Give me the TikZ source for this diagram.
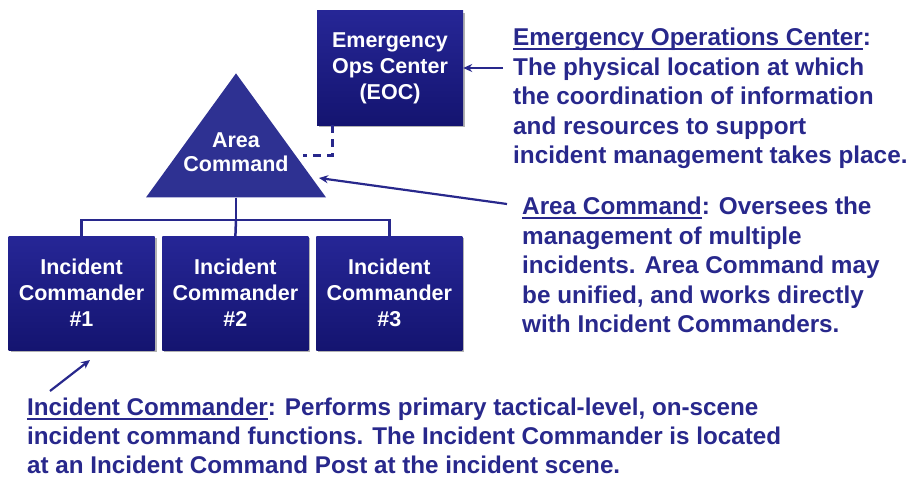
\documentclass[tikz,border=0pt]{standalone}
\usepackage{fontspec}
\setmainfont{Liberation Sans}
\usetikzlibrary{positioning,arrows.meta,shapes.geometric,shadows}

\definecolor{icsnavy}{RGB}{40,40,140}
\definecolor{boxtop}{RGB}{38,38,150}
\definecolor{boxbottom}{RGB}{20,20,112}
\definecolor{trifill}{RGB}{46,49,146}

\newcommand{\headline}[1]{\setbox0\hbox{#1}\rlap{\rule[-4.5pt]{\wd0}{2pt}}\box0}

\begin{document}
\begin{tikzpicture}[x=1pt, y=-1pt,
        unitbox/.style = {rectangle, top color=boxtop, bottom color=boxbottom, minimum width=146pt, minimum height=114pt, inner sep=0pt, text=white, align=center, font=\bfseries\fontsize{21.5}{26}\selectfont, drop shadow={shadow xshift=2pt, shadow yshift=-2pt, opacity=0.3, fill=black}},
        areatri/.style = {isosceles triangle, isosceles triangle stretches, shape border rotate=90, fill=trifill, minimum width=180pt, minimum height=124pt, inner sep=0pt},
        trilabel/.style = {text=white, align=center, inner sep=0pt, font=\bfseries\fontsize{21.5}{24.5}\selectfont},
        note/.style = {anchor=north west, inner sep=0pt, align=left, text=icsnavy, font=\bfseries\fontsize{24.3}{29.5}\selectfont},
        widenote/.style = {note, font=\bfseries\fontsize{24.2}{29}\selectfont},
        treeline/.style = {draw=icsnavy, line width=2.5pt},
        dashline/.style = {draw=icsnavy, line width=3pt, dash pattern=on 8pt off 6pt},
        line/.style = {draw=icsnavy, line width=2.2pt, -{Stealth[length=9pt,width=8pt]}}
    ]
    \useasboundingbox (0,0) rectangle (909,476);

    % command structure
    \node [unitbox] (eoc) at (390,68) {Emergency\\Ops Center\\(EOC)};
    \node [areatri] (area) at (236,151.5) {};
    \node [trilabel] (arealbl) at (236,152) {Area\\Command};
    \node [unitbox] (ic1) at (81.5,293) {Incident\\Commander\\\#1};
    \node [unitbox, right=7.5pt of ic1] (ic2) {Incident\\Commander\\\#2};
    \node [unitbox, right=7.5pt of ic2] (ic3) {Incident\\Commander\\\#3};

    \coordinate (split) at (236,220);
    \coordinate (dashend) at (303,155);
    \path [treeline] (area.south) -- (split);
    \path [treeline] (ic1.north) |- (split) -| (ic3.north);
    \path [treeline] (split) -- (ic2.north);
    \path [dashline] ([xshift=16pt]eoc.south west) |- (dashend);

    % descriptions
    \node [note] (eocnote) at (513,28) {\headline{Emergency Operations Center}:\\The physical location at which\\the coordination of information\\and resources to support\\incident management takes place.};
    \node [note] (areanote) at (522,197) {\headline{Area Command}: Oversees the\\management of multiple\\incidents. Area Command may\\be unified, and works directly\\with Incident Commanders.};
    \node [widenote] (icnote) at (27,398) {\headline{Incident Commander}: Performs primary tactical-level, on-scene\\incident command functions. The Incident Commander is located\\at an Incident Command Post at the incident scene.};

    \coordinate (areatail) at (507,204);
    \coordinate (areatip) at (319,178);
    \coordinate (ictail) at (50,391);
    \coordinate (ictip) at (90,360);
    \path [line] ([xshift=-10pt]eocnote.west |- eoc.east) -- (eoc.east);
    \path [line] (areatail) -- (areatip);
    \path [line] (ictail) -- (ictip);
\end{tikzpicture}
\end{document}
